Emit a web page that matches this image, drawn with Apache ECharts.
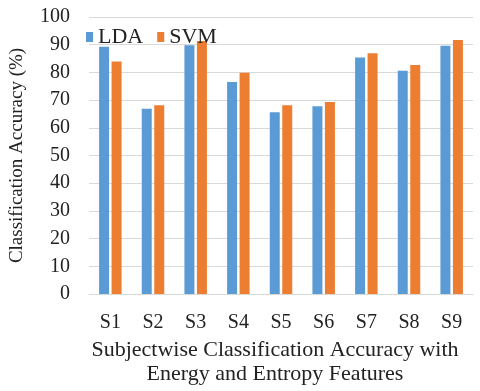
<!DOCTYPE html>
<html>
<head>
<meta charset="utf-8">
<script src="https://cdn.jsdelivr.net/npm/echarts@6/dist/echarts.min.js"></script>
<style>html,body{margin:0;padding:0;background:#fff}#c{width:480px;height:391px}</style>
</head>
<body>
<div id="c"></div>
<script>
const categories = ['S1','S2','S3','S4','S5','S6','S7','S8','S9'];
const ldaValues = [89.3, 66.9, 89.8, 76.5, 65.6, 67.8, 85.4, 80.6, 89.6];
const svmValues = [83.9, 68.1, 91.3, 79.9, 68.1, 69.3, 86.9, 82.7, 91.7];
const seriesNames = ['LDA', 'SVM'];
const xTitle = 'Subjectwise Classification Accuracy with\nEnergy and Entropy Features';
const yTitle = 'Classification Accuracy (%)';

const font = '"Liberation Serif", "Times New Roman", serif';
const chart = echarts.init(document.getElementById('c'));
chart.setOption({
  animation: false,
  textStyle: { fontFamily: font },
  legend: {
    left: 81, top: 21,
    icon: 'rect',
    itemWidth: 7, itemHeight: 10, itemGap: 14,
    textStyle: { fontFamily: font, fontSize: 22, color: '#222' },
    data: seriesNames
  },
  grid: { left: 80, right: 7, top: 17, bottom: 97, containLabel: false },
  xAxis: {
    type: 'category',
    data: categories,
    axisLine: { lineStyle: { color: '#d9d9d9', width: 1 } },
    axisTick: { show: false },
    axisLabel: { fontFamily: font, fontSize: 20, color: '#222', margin: 19 },
    name: xTitle,
    nameLocation: 'middle',
    nameGap: 43,
    nameTextStyle: { fontFamily: font, fontSize: 22, color: '#222', lineHeight: 24, padding: [0, 12, 0, 0] }
  },
  yAxis: {
    type: 'value', min: 0, max: 100, interval: 10,
    axisLine: { show: false },
    axisTick: { show: false },
    splitLine: { lineStyle: { color: '#d9d9d9', width: 1 } },
    axisLabel: { fontFamily: font, fontSize: 20, color: '#222', margin: 19 },
    name: yTitle,
    nameLocation: 'middle',
    nameGap: 62,
    nameTextStyle: { fontFamily: font, fontSize: 19, color: '#222' }
  },
  series: [
    { name: seriesNames[0], type: 'bar', data: ldaValues, barWidth: 10, barGap: '25%', itemStyle: { color: '#5b9bd5' } },
    { name: seriesNames[1], type: 'bar', data: svmValues, barWidth: 10, barGap: '25%', itemStyle: { color: '#ed7d31' } }
  ]
});
</script>
</body>
</html>
